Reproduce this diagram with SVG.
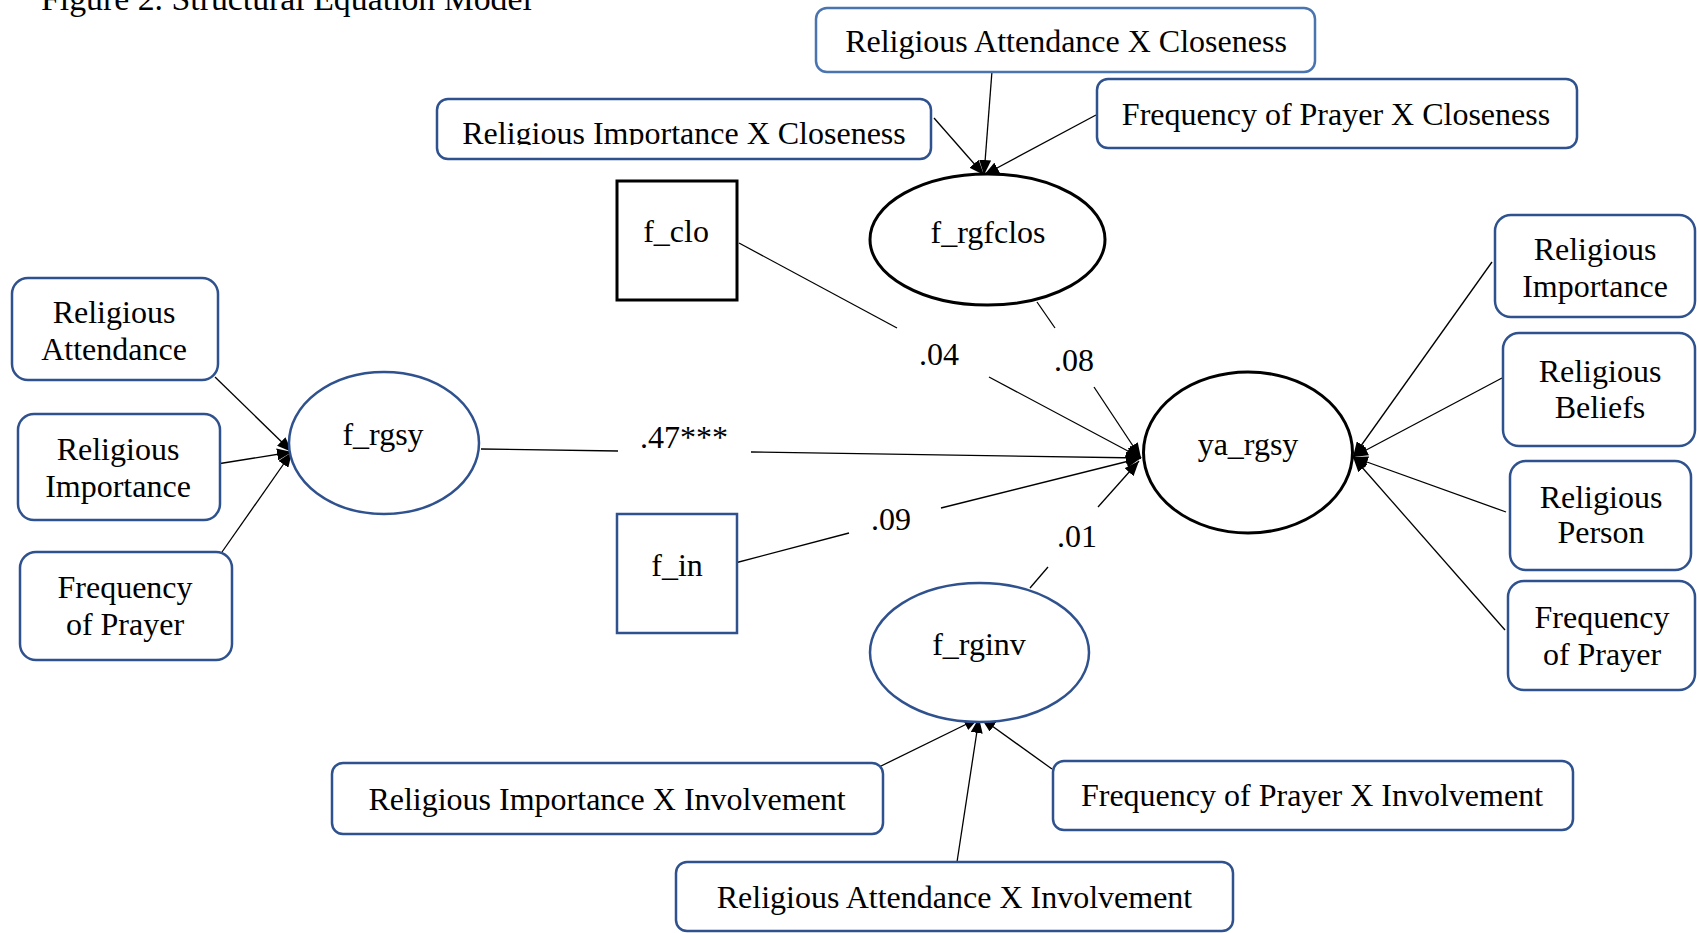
<svg xmlns="http://www.w3.org/2000/svg" width="1697" height="933" viewBox="0 0 1697 933">
  <style>
    text { font-family: "Liberation Serif", "Times New Roman", serif; font-size: 32px; fill: #000; }
    .c { text-anchor: middle; }
    .box { fill: #fff; stroke: #2F528F; stroke-width: 2.5; }
    .box2 { fill: #fff; stroke: #4A74B0; stroke-width: 2.5; }
    .blk { fill: #fff; stroke: #000; stroke-width: 3; }
    .blu { fill: #fff; stroke: #2F528F; stroke-width: 2.5; }
    .ln { stroke: #000; stroke-width: 1.3; fill: none; }
    .ar { marker-end: url(#arr); }
  </style>
  <defs>
    <marker id="arr" markerUnits="userSpaceOnUse" markerWidth="16" markerHeight="12" refX="15" refY="6" orient="auto">
      <path d="M0,0 L15,6 L0,12 Z" fill="#000"/>
    </marker>
    <clipPath id="clipRIXC">
      <rect x="430" y="90" width="510" height="55"/>
    </clipPath>
  </defs>

  <rect width="1697" height="933" fill="#fff"/>

  <text x="41" y="10" style="font-size:33.8px">Figure 2. Structural Equation Model</text>

  <g id="connectors">
    <line class="ln ar" x1="215" y1="377" x2="292" y2="452"/>
    <line class="ln ar" x1="217" y1="464" x2="292" y2="452"/>
    <line class="ln ar" x1="222" y1="552" x2="292" y2="452"/>

    <line class="ln ar" x1="934" y1="118" x2="984" y2="175"/>
    <line class="ln ar" x1="992" y1="71" x2="984" y2="175"/>
    <line class="ln ar" x1="1096" y1="115" x2="984" y2="175"/>

    <line class="ln" x1="739" y1="243" x2="897" y2="328"/>
    <line class="ln ar" x1="989" y1="377" x2="1141" y2="458"/>

    <line class="ln" x1="1037" y1="302" x2="1055" y2="328"/>
    <line class="ln ar" x1="1094" y1="387" x2="1141" y2="458"/>

    <line class="ln" x1="481" y1="449" x2="618" y2="451"/>
    <line class="ln ar" x1="751" y1="452" x2="1141" y2="458"/>

    <line class="ln" x1="735" y1="563" x2="849" y2="533"/>
    <line class="ln ar" x1="941" y1="508" x2="1141" y2="458"/>

    <line class="ln" x1="1030" y1="588" x2="1048" y2="567"/>
    <line class="ln ar" x1="1098" y1="507" x2="1139" y2="461"/>

    <line class="ln ar" x1="1492" y1="262" x2="1353" y2="457"/>
    <line class="ln ar" x1="1502" y1="378" x2="1353" y2="457"/>
    <line class="ln ar" x1="1506" y1="512" x2="1353" y2="457"/>
    <line class="ln ar" x1="1505" y1="630" x2="1353" y2="457"/>

    <line class="ln ar" x1="877" y1="768" x2="979" y2="718"/>
    <line class="ln ar" x1="1052" y1="769" x2="981" y2="718"/>
    <line class="ln ar" x1="957" y1="862" x2="979" y2="718"/>
  </g>

  <g id="labels">
    <text class="c" x="684" y="448">.47***</text>
    <text class="c" x="939" y="365">.04</text>
    <text class="c" x="1074" y="371">.08</text>
    <text class="c" x="891" y="530">.09</text>
    <text class="c" x="1077" y="547">.01</text>
  </g>

  <g id="RAXC">
    <rect class="box2" x="816" y="8" width="499" height="64" rx="11"/>
    <text class="c" x="1066" y="52">Religious Attendance X Closeness</text>
  </g>
  <g id="RIXC">
    <rect class="box" x="437" y="99" width="494" height="60" rx="11"/>
    <text class="c" x="684" y="144" clip-path="url(#clipRIXC)">Religious Importance X Closeness</text>
  </g>
  <g id="FPXC">
    <rect class="box" x="1097" y="79" width="480" height="69" rx="11"/>
    <text class="c" x="1336" y="125">Frequency of Prayer X Closeness</text>
  </g>

  <g id="f_clo">
    <rect class="blk" x="617" y="181" width="120" height="119"/>
    <text class="c" x="676" y="242">f_clo</text>
  </g>
  <g id="f_rgfclos">
    <ellipse class="blk" cx="987.5" cy="239.5" rx="117.5" ry="65.5"/>
    <text class="c" x="988" y="243">f_rgfclos</text>
  </g>

  <g id="RA_left">
    <rect class="box" x="12" y="278" width="206" height="102" rx="16"/>
    <text class="c" x="114" y="323">Religious</text>
    <text class="c" x="114" y="360">Attendance</text>
  </g>
  <g id="RI_left">
    <rect class="box" x="18" y="414" width="202" height="106" rx="16"/>
    <text class="c" x="118" y="460">Religious</text>
    <text class="c" x="118" y="497">Importance</text>
  </g>
  <g id="FP_left">
    <rect class="box" x="20" y="552" width="212" height="108" rx="16"/>
    <text class="c" x="125" y="598">Frequency</text>
    <text class="c" x="125" y="635">of Prayer</text>
  </g>

  <g id="f_rgsy">
    <ellipse class="blu" cx="384" cy="443" rx="95" ry="71"/>
    <text class="c" x="383" y="445">f_rgsy</text>
  </g>

  <g id="f_in">
    <rect class="blu" x="617" y="514" width="120" height="119"/>
    <text class="c" x="677" y="576">f_in</text>
  </g>

  <g id="ya_rgsy">
    <ellipse class="blk" cx="1248" cy="452.5" rx="104.5" ry="80.5"/>
    <text class="c" x="1248" y="455">ya_rgsy</text>
  </g>

  <g id="RI_right">
    <rect class="box" x="1495" y="215" width="200" height="102" rx="16"/>
    <text class="c" x="1595" y="260">Religious</text>
    <text class="c" x="1595" y="297">Importance</text>
  </g>
  <g id="RB_right">
    <rect class="box" x="1503" y="333" width="192" height="113" rx="16"/>
    <text class="c" x="1600" y="382">Religious</text>
    <text class="c" x="1600" y="418">Beliefs</text>
  </g>
  <g id="RP_right">
    <rect class="box" x="1510" y="461" width="181" height="109" rx="16"/>
    <text class="c" x="1601" y="508">Religious</text>
    <text class="c" x="1601" y="543">Person</text>
  </g>
  <g id="FP_right">
    <rect class="box" x="1508" y="581" width="187" height="109" rx="16"/>
    <text class="c" x="1602" y="628">Frequency</text>
    <text class="c" x="1602" y="665">of Prayer</text>
  </g>

  <g id="f_rginv">
    <ellipse class="blu" cx="979.5" cy="652.5" rx="109.5" ry="69.5"/>
    <text class="c" x="979" y="655">f_rginv</text>
  </g>

  <g id="RIXI">
    <rect class="box" x="332" y="763" width="551" height="71" rx="11"/>
    <text class="c" x="607" y="810">Religious Importance X Involvement</text>
  </g>
  <g id="FPXI">
    <rect class="box" x="1053" y="761" width="520" height="69" rx="11"/>
    <text class="c" x="1312" y="806">Frequency of Prayer X Involvement</text>
  </g>
  <g id="RAXI">
    <rect class="box" x="676" y="862" width="557" height="69" rx="11"/>
    <text class="c" x="954.5" y="908">Religious Attendance X Involvement</text>
  </g>
</svg>
